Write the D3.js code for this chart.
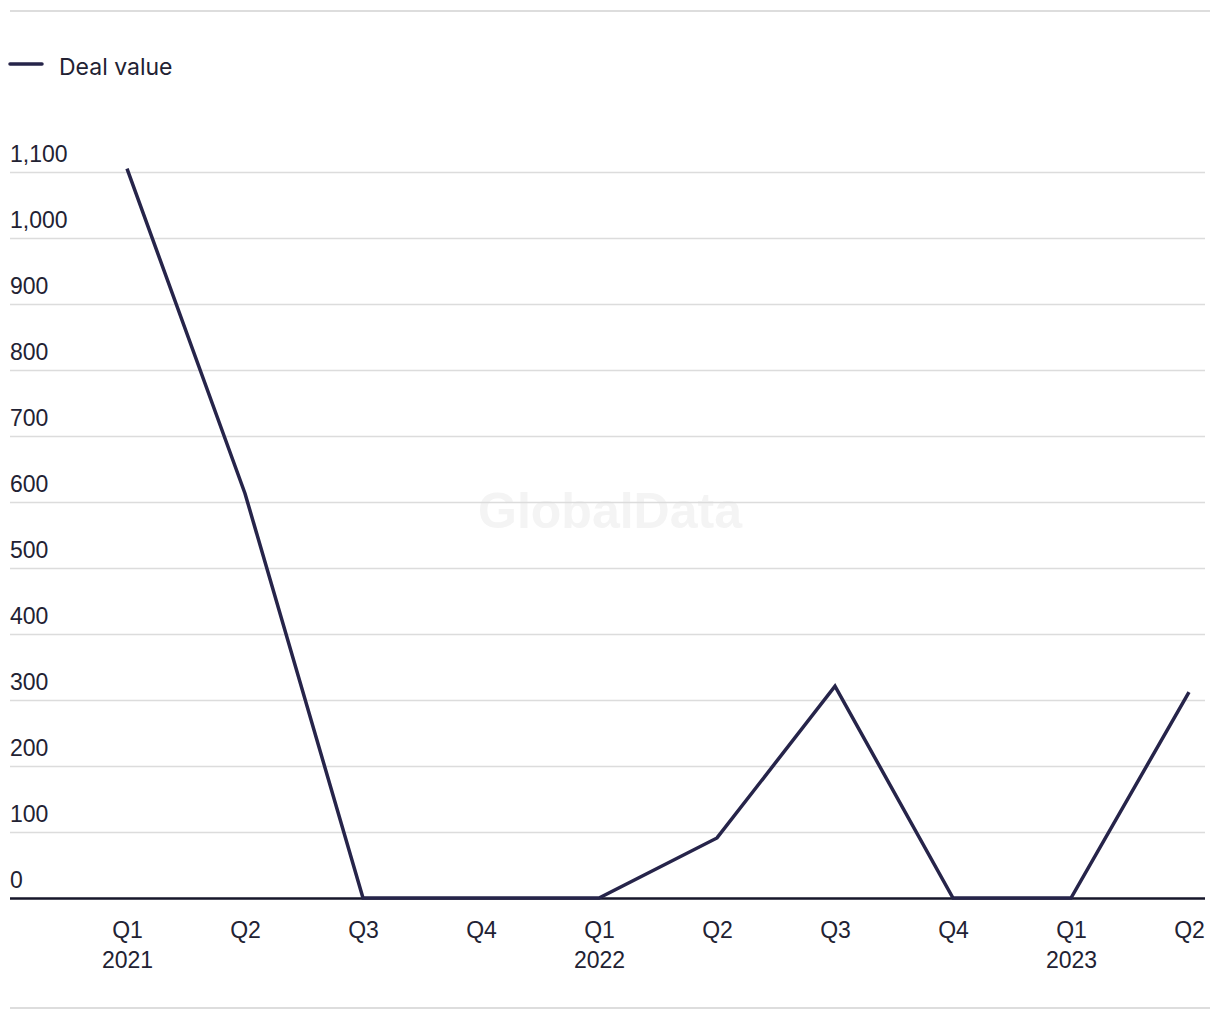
<!DOCTYPE html>
<html>
<head>
<meta charset="utf-8">
<script src="https://cdn.jsdelivr.net/npm/d3@7"></script>
<style>
  html, body { margin: 0; padding: 0; background: #fff; }
  svg { display: block; font-family: "Inter", "Liberation Sans", sans-serif; }
</style>
</head>
<body>
<svg id="chart" width="1220" height="1020"></svg>
<script>
const quarters = ["Q1", "Q2", "Q3", "Q4", "Q1", "Q2", "Q3", "Q4", "Q1", "Q2"];
const years = ["2021", "", "", "", "2022", "", "", "", "2023", ""];
const dealValue = [1105, 613, 0, 0, 0, 91, 321, 0, 0, 312];
const yTicks = [0, 100, 200, 300, 400, 500, 600, 700, 800, 900, 1000, 1100];
const seriesName = "Deal value";

const svg = d3.select("#chart");
const lineColor = "#26244a";
const textColor = "#222233";

const x = d3.scalePoint().domain(d3.range(quarters.length)).range([127, 1189]);
const y = d3.scaleLinear().domain([0, 1100]).range([898, 172]);

// top and bottom separators
svg.append("line").attr("x1", 10).attr("x2", 1210).attr("y1", 11).attr("y2", 11)
  .attr("stroke", "#dddddd").attr("stroke-width", 2);
svg.append("line").attr("x1", 10).attr("x2", 1210).attr("y1", 1008).attr("y2", 1008)
  .attr("stroke", "#dddddd").attr("stroke-width", 2);

// legend
svg.append("line").attr("x1", 10).attr("x2", 42).attr("y1", 64).attr("y2", 64)
  .attr("stroke", lineColor).attr("stroke-width", 3.5).attr("stroke-linecap", "round");
svg.append("text").attr("x", 59).attr("y", 75).text(seriesName)
  .attr("font-size", 23).attr("fill", textColor);

// watermark
svg.append("text").attr("x", 610).attr("y", 528).attr("text-anchor", "middle")
  .attr("font-size", 50).attr("font-weight", "bold").attr("fill", "#f4f4f4")
  .attr("font-family", "Liberation Sans, Arial, sans-serif")
  .text("GlobalData");

// y gridlines and labels
const yAxis = d3.axisLeft(y).tickValues(yTicks).tickSize(0).tickFormat(d3.format(","));
const yg = svg.append("g").call(yAxis);
yg.select(".domain").remove();
yg.selectAll(".tick text").remove();
yg.selectAll(".tick").append("line")
  .attr("x1", 10).attr("x2", 1205)
  .attr("stroke", d => d === 0 ? "#16162a" : "#dcdcdc")
  .attr("stroke-width", d => d === 0 ? 2.5 : 1.5);
yg.selectAll(".tick").append("text")
  .attr("x", 10).attr("y", -11)
  .attr("text-anchor", "start")
  .attr("font-size", 23).attr("fill", textColor)
  .text(d => d3.format(",")(d));

// x axis labels
const xAxis = d3.axisBottom(x).tickSize(0).tickFormat(i => quarters[i]);
const xg = svg.append("g").attr("transform", "translate(0,898)").call(xAxis);
xg.select(".domain").remove();
xg.selectAll(".tick text").remove();
xg.selectAll(".tick").append("text")
  .attr("y", 40).attr("text-anchor", "middle")
  .attr("font-size", 23).attr("fill", textColor)
  .text(i => quarters[i]);
xg.selectAll(".tick").filter(i => years[i] !== "").append("text")
  .attr("y", 70).attr("text-anchor", "middle")
  .attr("font-size", 23).attr("fill", textColor)
  .text(i => years[i]);

// line
const line = d3.line().x((d, i) => x(i)).y(d => y(d));
svg.append("path").datum(dealValue)
  .attr("d", line)
  .attr("fill", "none")
  .attr("stroke", lineColor)
  .attr("stroke-width", 3.5)
  .attr("stroke-linejoin", "miter");
</script>
</body>
</html>
